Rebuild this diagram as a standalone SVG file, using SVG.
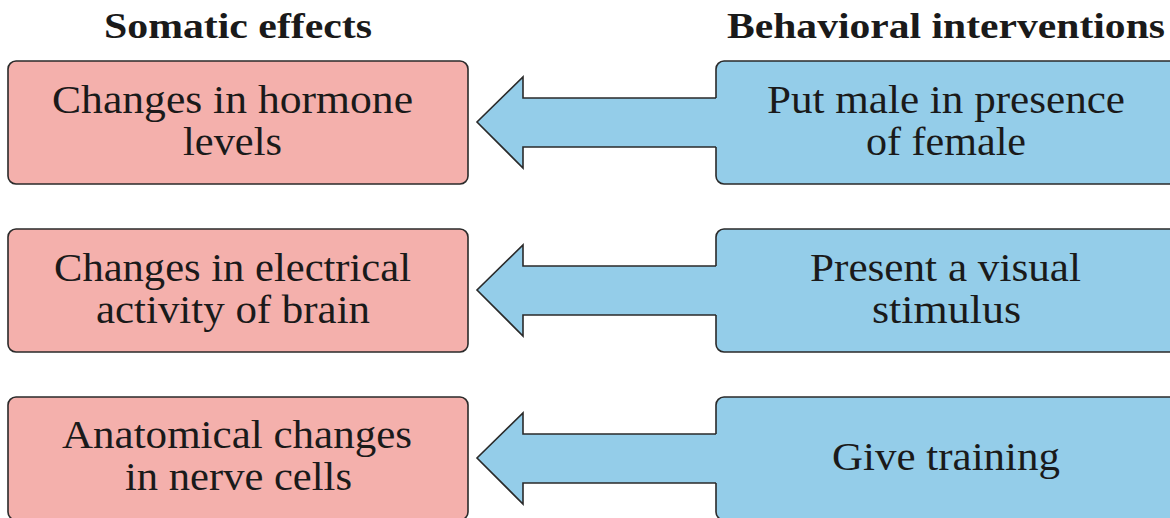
<svg xmlns="http://www.w3.org/2000/svg" width="1170" height="518" viewBox="0 0 1170 518">
<style>
.pink{fill:#F4B0AC;stroke:#2a2a2a;stroke-width:1.6}
.blue{fill:#94CDE9;stroke:#2a2a2a;stroke-width:1.6}
.afill{fill:#94CDE9;stroke:none}
.aline{fill:none;stroke:#2a2a2a;stroke-width:1.6;stroke-linejoin:miter}
.t{font-family:"Liberation Serif","Times New Roman",serif;font-size:40px;fill:#1a1a1a;text-anchor:middle}
.h{font-family:"Liberation Serif","Times New Roman",serif;font-size:36px;font-weight:bold;fill:#1a1a1a;text-anchor:middle}
</style>
<rect width="1170" height="518" fill="#ffffff"/>
<text class="h" x="238" y="38" textLength="268" lengthAdjust="spacingAndGlyphs">Somatic effects</text>
<text class="h" x="946" y="38" textLength="438" lengthAdjust="spacingAndGlyphs">Behavioral interventions</text>

<g id="som1"><rect class="pink" x="8" y="61" width="460" height="123" rx="8"/>
<text class="t" x="232.5" y="113" textLength="361" lengthAdjust="spacingAndGlyphs">Changes in hormone</text><text class="t" x="232.5" y="155" textLength="99" lengthAdjust="spacingAndGlyphs">levels</text></g>
<g id="som2"><rect class="pink" x="8" y="229" width="460" height="123" rx="8"/>
<text class="t" x="232.5" y="281" textLength="357" lengthAdjust="spacingAndGlyphs">Changes in electrical</text><text class="t" x="233" y="323" textLength="274" lengthAdjust="spacingAndGlyphs">activity of brain</text></g>
<g id="som3"><rect class="pink" x="8" y="397" width="460" height="123" rx="8"/>
<text class="t" x="237" y="448" textLength="350" lengthAdjust="spacingAndGlyphs">Anatomical changes</text><text class="t" x="238.5" y="490" textLength="227" lengthAdjust="spacingAndGlyphs">in nerve cells</text></g>

<g id="beh1"><rect class="blue" x="716" y="61" width="470" height="123" rx="8"/>
<text class="t" x="946" y="113" textLength="358" lengthAdjust="spacingAndGlyphs">Put male in presence</text><text class="t" x="946" y="155" textLength="160" lengthAdjust="spacingAndGlyphs">of female</text></g>
<g id="beh2"><rect class="blue" x="716" y="229" width="470" height="123" rx="8"/>
<text class="t" x="945.5" y="281" textLength="271" lengthAdjust="spacingAndGlyphs">Present a visual</text><text class="t" x="946.5" y="323" textLength="149" lengthAdjust="spacingAndGlyphs">stimulus</text></g>
<g id="beh3"><rect class="blue" x="716" y="397" width="470" height="123" rx="8"/>
<text class="t" x="946" y="470" textLength="228" lengthAdjust="spacingAndGlyphs">Give training</text></g>

<g id="connectors">
<g>
<polygon class="afill" points="720,98 523,98 523,77 477,122 523,168 523,147 720,147"/>
<polyline class="aline" points="716,98 523,98 523,77 477,122 523,168 523,147 716,147"/>
</g>
<g transform="translate(0,168)">
<polygon class="afill" points="720,98 523,98 523,77 477,122 523,168 523,147 720,147"/>
<polyline class="aline" points="716,98 523,98 523,77 477,122 523,168 523,147 716,147"/>
</g>
<g transform="translate(0,336)">
<polygon class="afill" points="720,98 523,98 523,77 477,122 523,168 523,147 720,147"/>
<polyline class="aline" points="716,98 523,98 523,77 477,122 523,168 523,147 716,147"/>
</g>
</g>
</svg>
